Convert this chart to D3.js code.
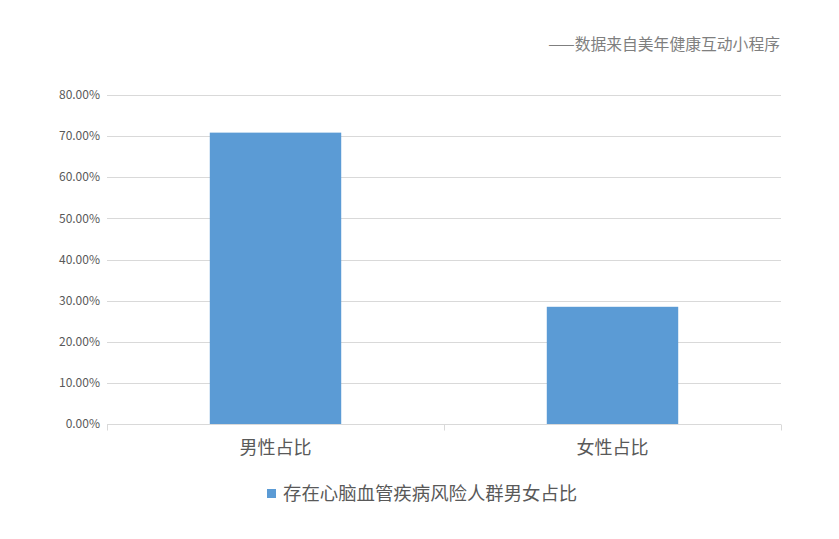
<!DOCTYPE html>
<html>
<head>
<meta charset="utf-8">
<script src="https://cdn.jsdelivr.net/npm/d3@7"></script>
<style>
  body { margin: 0; background: #fff; }
  text { font-family: "Microsoft YaHei", "Noto Sans CJK SC", sans-serif; }
</style>
</head>
<body>
<div id="chart"></div>
<script>
var categories = ["男性占比", "女性占比"];
var values = [0.7085, 0.285];
var yTicks = [0, 0.1, 0.2, 0.3, 0.4, 0.5, 0.6, 0.7, 0.8];
var seriesName = "存在心脑血管疾病风险人群男女占比";
var note = "——数据来自美年健康互动小程序";

var W = 839, H = 539;
var margin = {top: 95, right: 58, bottom: 115, left: 107},
    width = W - margin.left - margin.right,
    height = H - margin.top - margin.bottom;

var svg = d3.select("#chart").append("svg")
    .attr("width", W)
    .attr("height", H);

var g = svg.append("g")
    .attr("transform", "translate(" + margin.left + "," + margin.top + ")");

var x = d3.scaleBand().domain(categories).range([0, width]).paddingInner(0.61).paddingOuter(0.305);
var xb = d3.scaleBand().domain(categories).range([0, width]);
var y = d3.scaleLinear().domain([0, 0.8]).range([height, 0]);

// gridlines
g.selectAll(".grid")
  .data(yTicks.slice(1))
  .enter().append("line")
    .attr("x1", 0).attr("x2", width)
    .attr("y1", function(d) { return Math.round(y(d)) + 0.5; })
    .attr("y2", function(d) { return Math.round(y(d)) + 0.5; })
    .style("stroke", "#d9d9d9");

// y tick labels
g.selectAll(".ylab")
  .data(yTicks)
  .enter().append("text")
    .attr("x", -7)
    .attr("y", function(d) { return y(d); })
    .attr("dy", "0.35em")
    .attr("text-anchor", "end")
    .attr("font-size", "12px")
    .attr("fill", "#595959")
    .text(function(d) { return (d * 100).toFixed(2) + "%"; });

// bars
g.selectAll(".bar")
  .data(values)
  .enter().append("rect")
    .attr("x", function(d, i) { return x(categories[i]); })
    .attr("width", x.bandwidth())
    .attr("y", function(d) { return y(d); })
    .attr("height", function(d) { return height - y(d); })
    .attr("fill", "#5b9bd5");

// x axis
var xAxis = g.append("g").attr("transform", "translate(0," + (Math.round(height) + 0.5) + ")");
xAxis.append("line").attr("x1", 0).attr("x2", width).style("stroke", "#d9d9d9");
var edges = [0].concat(categories.map(function(c) { return xb(c) + xb.bandwidth(); }));
xAxis.selectAll(".tick")
  .data(edges)
  .enter().append("line")
    .attr("x1", function(d) { return Math.round(d) + 0.5; })
    .attr("x2", function(d) { return Math.round(d) + 0.5; })
    .attr("y1", 0).attr("y2", 6)
    .style("stroke", "#d9d9d9");
xAxis.selectAll(".xlab")
  .data(categories)
  .enter().append("text")
    .attr("x", function(d) { return xb(d) + xb.bandwidth() / 2; })
    .attr("y", 29)
    .attr("text-anchor", "middle")
    .attr("font-size", "18px")
    .attr("fill", "#595959")
    .text(function(d) { return d; });

// legend
var legend = svg.append("g").attr("transform", "translate(267,494)");
legend.append("rect").attr("x", 0).attr("y", -5).attr("width", 9).attr("height", 9).attr("fill", "#5b9bd5");
legend.append("text")
    .attr("x", 16).attr("y", 0).attr("dy", "0.35em")
    .attr("font-size", "18.4px")
    .attr("fill", "#595959")
    .text(seriesName);

// source note
svg.append("text")
    .attr("x", 780).attr("y", 44)
    .attr("dy", "0.35em")
    .attr("text-anchor", "end")
    .attr("font-size", "15.8px")
    .attr("fill", "#7f7f7f")
    .text(note);
</script>
</body>
</html>
